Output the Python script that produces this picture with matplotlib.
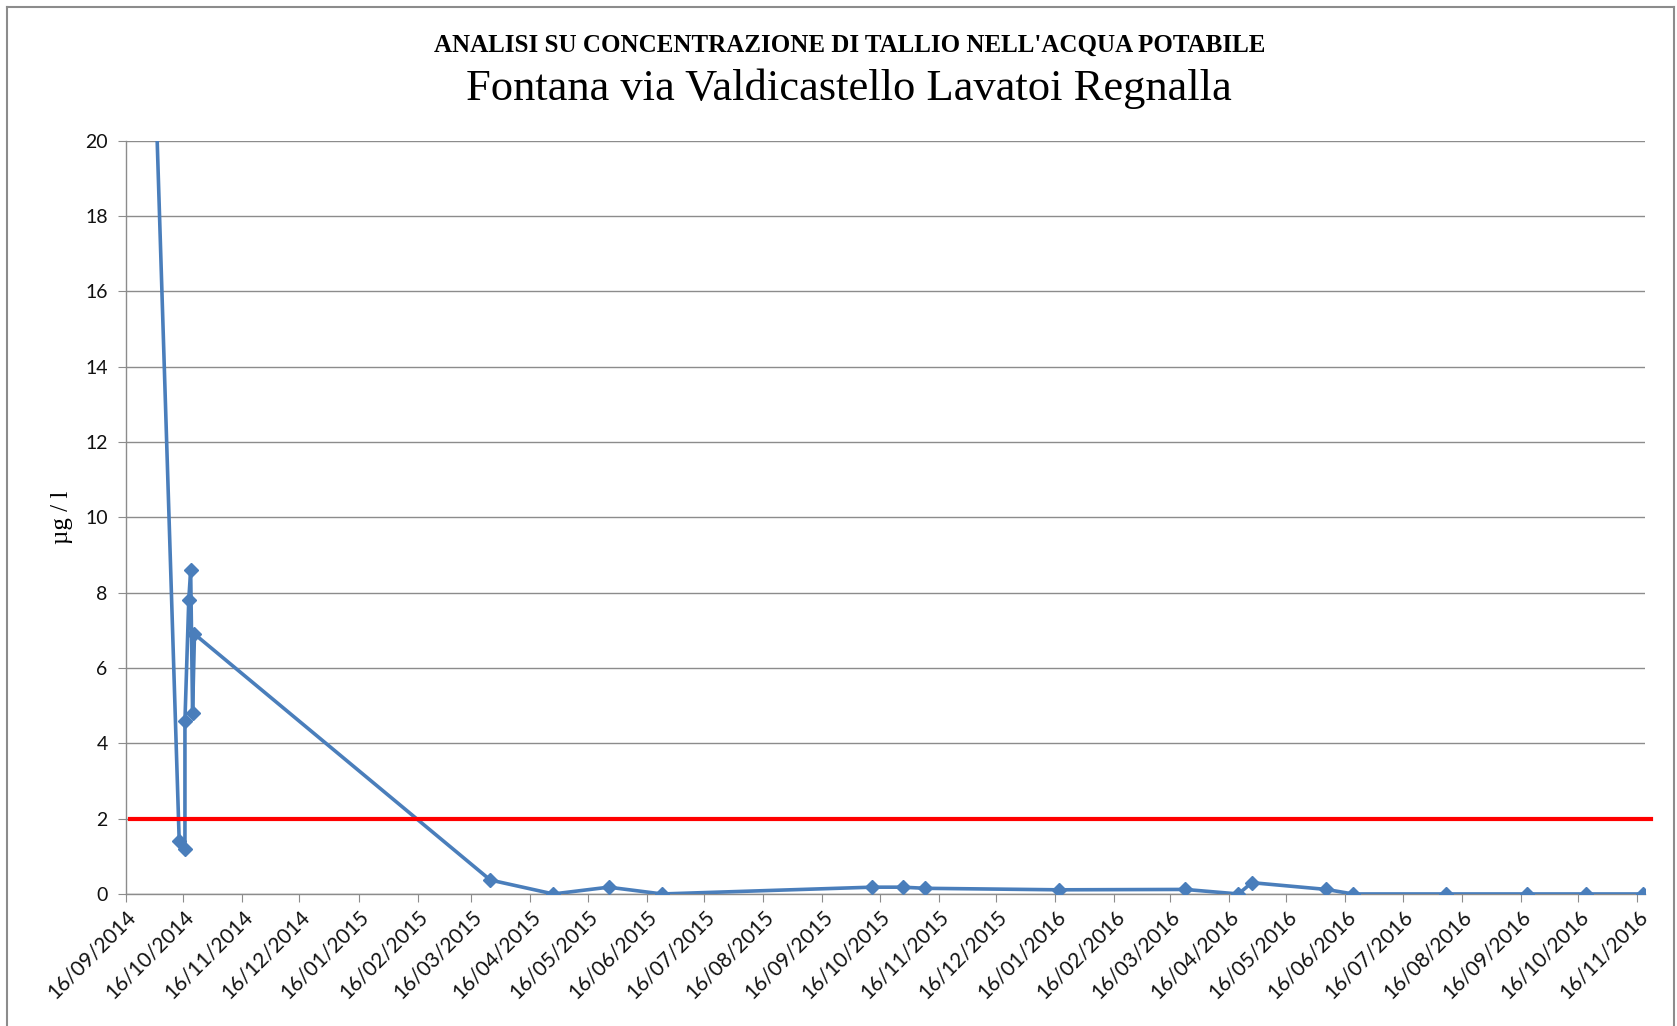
from datetime import date

import matplotlib
matplotlib.use("Agg")
import matplotlib.pyplot as plt
import matplotlib.dates as mdates
from matplotlib.lines import Line2D


# sample dates and thallium concentration (ug/l); first value lies above the axis range
sample_dates = [
    "2014-09-16", "2014-10-14", "2014-10-17", "2014-10-17", "2014-10-19",
    "2014-10-20", "2014-10-21", "2014-10-22", "2015-03-26", "2015-04-28",
    "2015-05-27", "2015-06-24", "2015-10-12", "2015-10-28", "2015-11-09",
    "2016-01-18", "2016-03-24", "2016-04-21", "2016-04-28", "2016-06-06",
    "2016-06-20", "2016-08-08", "2016-09-19", "2016-10-20", "2016-11-19",
]
tallio = [
    46.5, 1.4, 1.2, 4.6, 7.8,
    8.6, 4.8, 6.9, 0.37, 0.0,
    0.18, 0.0, 0.18, 0.18, 0.15,
    0.11, 0.12, 0.0, 0.3, 0.12,
    0.0, 0.0, 0.0, 0.0, 0.0,
]

# legal limit line (2 ug/l)
limit_dates = ["2014-09-18", "2016-11-23"]
limit_values = [2, 2]

y_ticks = [0, 2, 4, 6, 8, 10, 12, 14, 16, 18, 20]
x_tick_dates = [date(2014 + (8 + m) // 12, (8 + m) % 12 + 1, 16) for m in range(27)]

title_1 = "ANALISI SU CONCENTRAZIONE DI TALLIO NELL'ACQUA POTABILE"
title_2 = "Fontana via Valdicastello Lavatoi Regnalla"

BLUE = "#4a7ebb"
GRID = "#8c8c8c"

to_date = lambda s: date.fromisoformat(s)

fig = plt.figure(figsize=(16.77, 10.26), dpi=100)
ax = fig.add_axes([0.0750, 0.1287, 0.9059, 0.7342])

ax.plot([to_date(d) for d in sample_dates], tallio, color=BLUE, lw=2.6,
        marker="D", markersize=7.5, zorder=3)
ax.plot([to_date(d) for d in limit_dates], limit_values, color="#ff0000",
        lw=3, clip_on=False, zorder=4)

ax.set_xlim(date(2014, 9, 16), date(2016, 11, 20))
ax.set_ylim(0, 20)
ax.set_yticks(y_ticks)
ax.set_xticks(x_tick_dates)
ax.xaxis.set_major_formatter(mdates.DateFormatter("%d/%m/%Y"))

ax.grid(axis="y", color=GRID, lw=1)
ax.set_axisbelow(True)
for side in ("top", "right"):
    ax.spines[side].set_visible(False)
for side in ("left", "bottom"):
    ax.spines[side].set_color(GRID)
    ax.spines[side].set_linewidth(1)

ax.tick_params(axis="y", direction="out", length=6, color=GRID, pad=7,
               labelsize=14, labelcolor="#111111")
ax.tick_params(axis="x", direction="out", length=6, color=GRID, pad=3,
               labelsize=15, labelcolor="#111111")
for lab in ax.get_yticklabels() + ax.get_xticklabels():
    lab.set_family("Lato")
for lab in ax.get_xticklabels():
    lab.set_rotation(45)
    lab.set_ha("right")
    lab.set_rotation_mode("anchor")

ax.set_ylabel("µg / l", family="Liberation Serif", fontsize=18, labelpad=9)

fig.text(0.5064, 1 - 45 / 1026, title_1, family="Liberation Serif",
         weight="bold", fontsize=18, ha="center", va="center")
fig.text(0.5064, 1 - 89 / 1026, title_2, family="Liberation Serif",
         fontsize=32, ha="center", va="center")

# chart area frame
W, H = 1677, 1026
frame = dict(color="#8c8c8c", lw=1.5, transform=fig.transFigure)
fig.add_artist(Line2D([7 / W, 7 / W], [0, 1 - 7 / H], **frame))
fig.add_artist(Line2D([7 / W, 1674 / W], [1 - 7 / H, 1 - 7 / H], **frame))
fig.add_artist(Line2D([1674 / W, 1674 / W], [0, 1 - 7 / H], **frame))

fig.savefig("out.png", dpi=100, facecolor="white")
